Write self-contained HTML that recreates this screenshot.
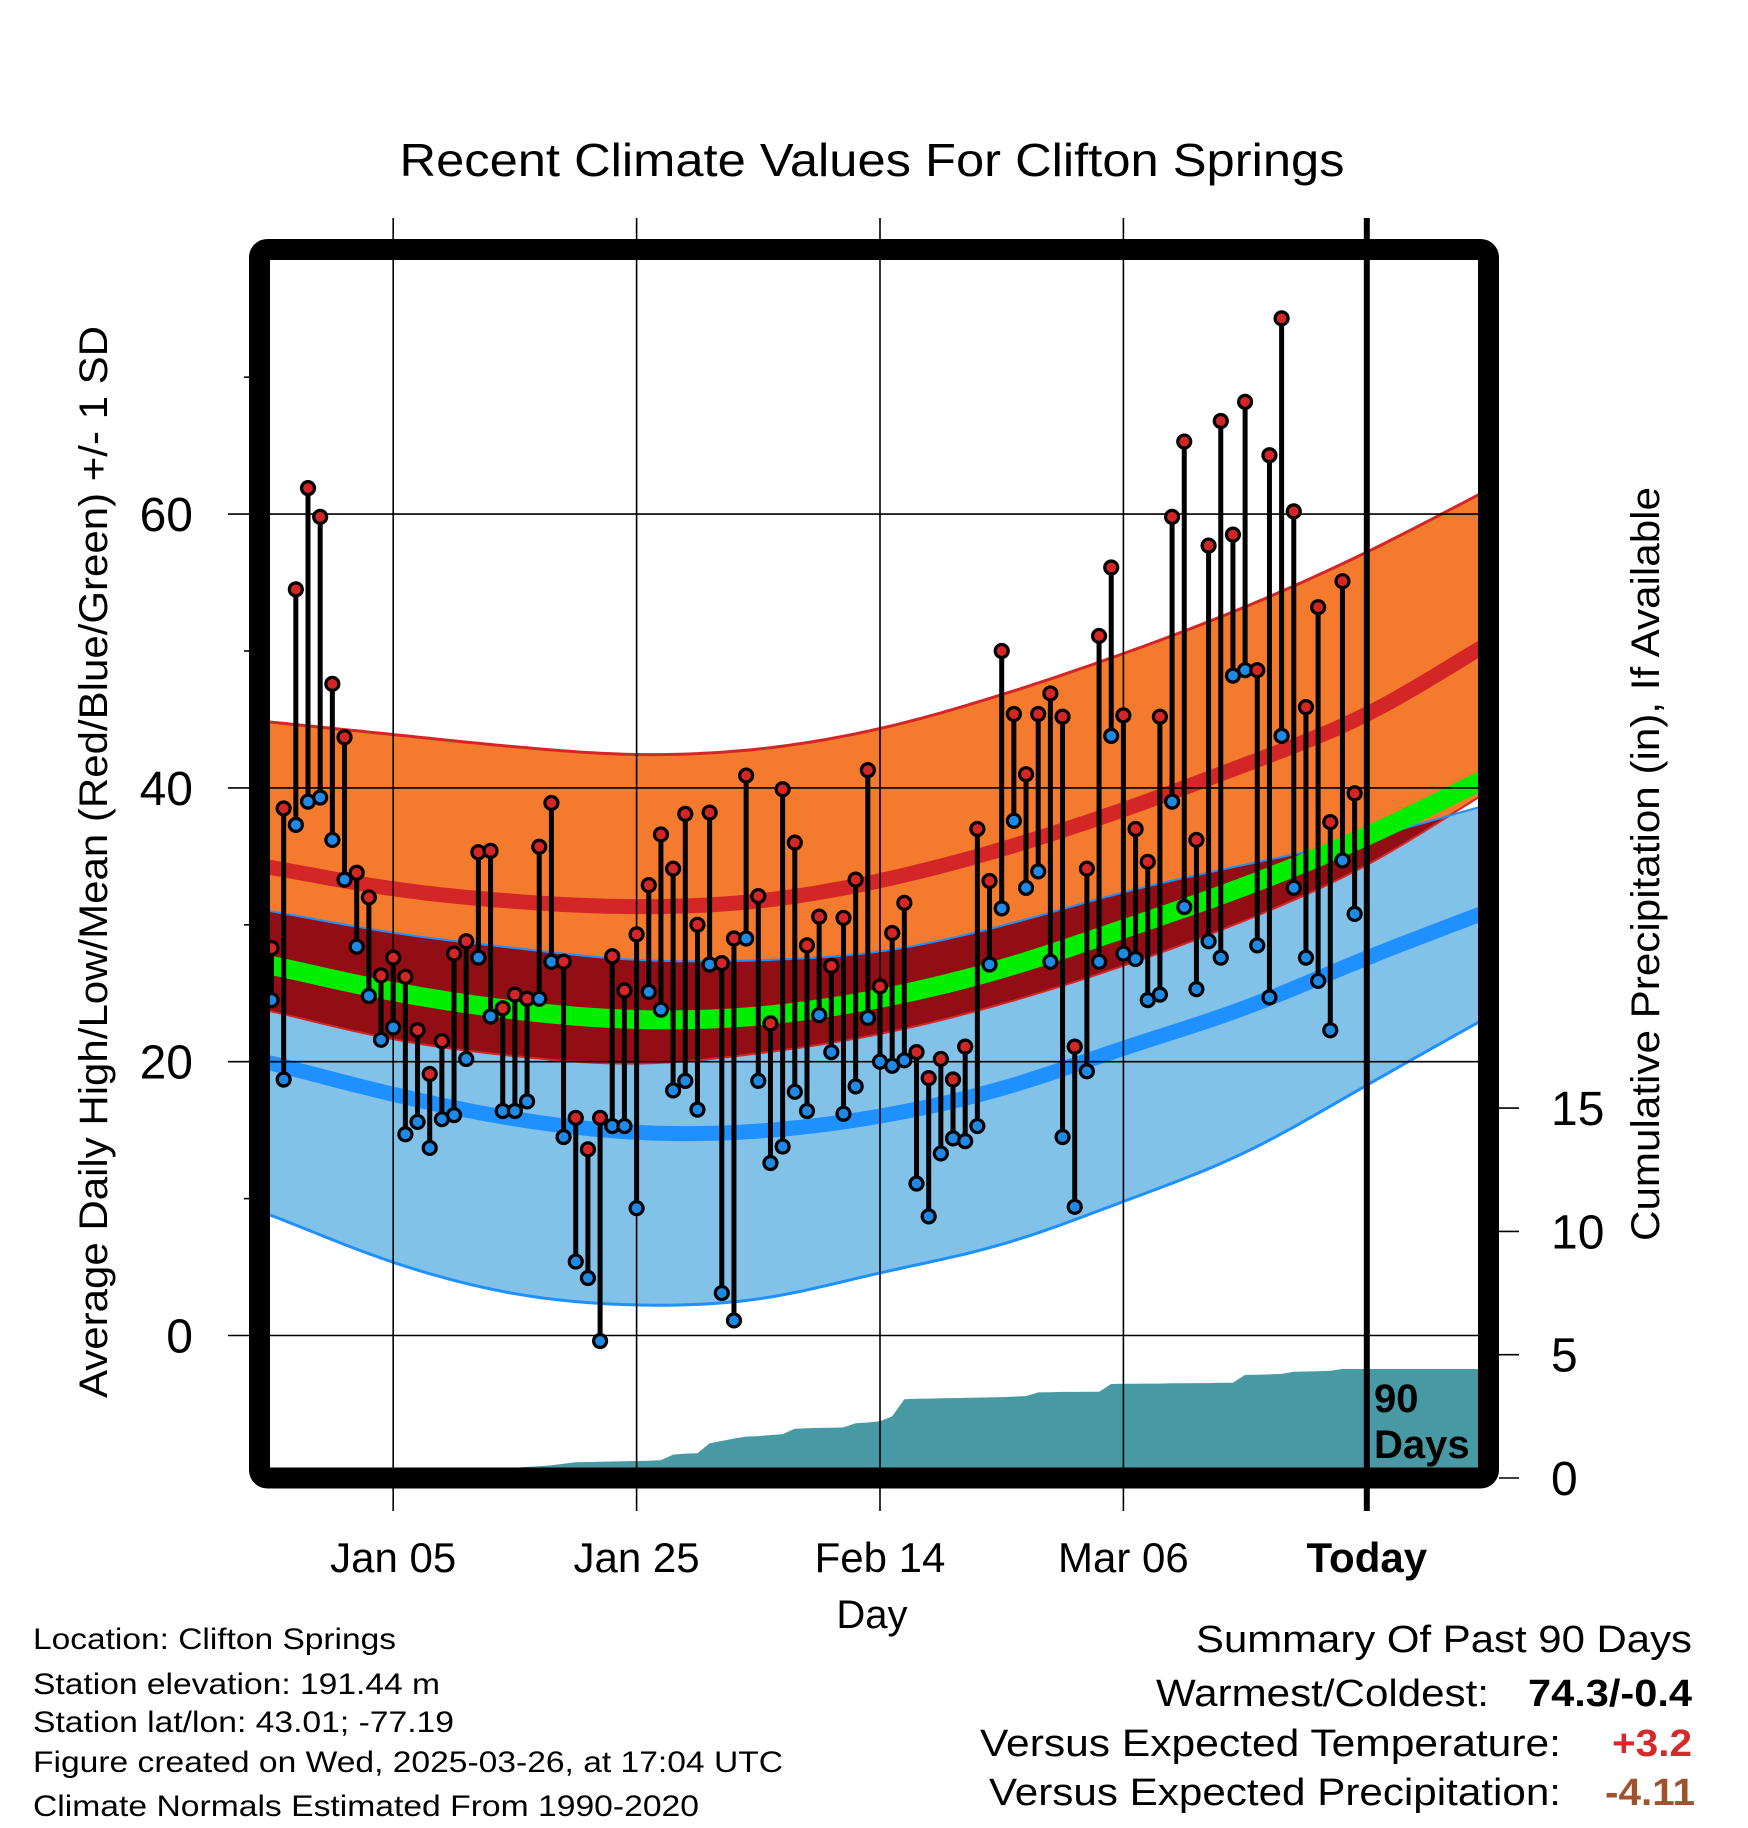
<!DOCTYPE html>
<html><head><meta charset="utf-8"><style>
html,body{margin:0;padding:0;background:#fff;}
svg{display:block;font-family:"Liberation Sans",Arial,sans-serif;}
</style></head><body>
<svg id="chart" width="1748" height="1828" viewBox="0 0 1748 1828" xmlns="http://www.w3.org/2000/svg">
<defs><clipPath id="plotclip"><rect x="270" y="260" width="1208" height="1208"/></clipPath></defs>
<text x="872" y="176" font-size="46" text-anchor="middle" textLength="945" lengthAdjust="spacingAndGlyphs">Recent Climate Values For Clifton Springs</text>
<g id="bands" clip-path="url(#plotclip)"></g>
<g id="grid"></g>
<g id="marks" clip-path="url(#plotclip)"></g>
<rect x="259.5" y="249.5" width="1229" height="1228.5" rx="8" fill="none" stroke="#000" stroke-width="21"/>
<text x="1374" y="1412" font-size="40" font-weight="bold">90</text>
<text x="1374" y="1458" font-size="40" font-weight="bold">Days</text>
<g id="axes"></g>
<text transform="translate(107,862) rotate(-90)" font-size="40" text-anchor="middle" textLength="1072" lengthAdjust="spacingAndGlyphs">Average Daily High/Low/Mean (Red/Blue/Green) +/- 1 SD</text>
<text transform="translate(1659,864) rotate(-90)" font-size="40" text-anchor="middle" textLength="754" lengthAdjust="spacingAndGlyphs">Cumulative Precipitation (in), If Available</text>
<text x="872" y="1628" font-size="40" text-anchor="middle">Day</text>
<g font-size="30">
<text x="33" y="1649" textLength="363" lengthAdjust="spacingAndGlyphs">Location: Clifton Springs</text>
<text x="33" y="1694" textLength="407" lengthAdjust="spacingAndGlyphs">Station elevation: 191.44 m</text>
<text x="33" y="1732" textLength="421" lengthAdjust="spacingAndGlyphs">Station lat/lon: 43.01; -77.19</text>
<text x="33" y="1772" textLength="750" lengthAdjust="spacingAndGlyphs">Figure created on Wed, 2025-03-26, at 17:04 UTC</text>
<text x="33" y="1816" textLength="666" lengthAdjust="spacingAndGlyphs">Climate Normals Estimated From 1990-2020</text>
</g>
<g font-size="38">
<text x="1692" y="1652" text-anchor="end" textLength="496" lengthAdjust="spacingAndGlyphs">Summary Of Past 90 Days</text>
<text x="1156" y="1706" textLength="333" lengthAdjust="spacingAndGlyphs">Warmest/Coldest:</text>
<text x="1692" y="1706" text-anchor="end" font-weight="bold" textLength="164" lengthAdjust="spacingAndGlyphs">74.3/-0.4</text>
<text x="980" y="1756" textLength="581" lengthAdjust="spacingAndGlyphs">Versus Expected Temperature:</text>
<text x="1692" y="1756" text-anchor="end" font-weight="bold" fill="#d42a2a" textLength="80" lengthAdjust="spacingAndGlyphs">+3.2</text>
<text x="989" y="1805" textLength="572" lengthAdjust="spacingAndGlyphs">Versus Expected Precipitation:</text>
<text x="1695" y="1805" text-anchor="end" font-weight="bold" fill="#a0522d" textLength="90" lengthAdjust="spacingAndGlyphs">-4.11</text>
</g>
</svg>
<script>
const highs=[28.3,38.5,54.5,61.9,59.8,47.6,43.7,33.8,32.0,26.3,27.6,26.2,22.3,19.1,21.5,27.9,28.8,35.3,35.4,23.9,24.9,24.6,35.7,38.9,27.3,15.9,13.6,15.9,27.7,25.2,29.3,32.9,36.6,34.1,38.1,30.0,38.2,27.2,29.0,40.9,32.1,22.8,39.9,36.0,28.5,30.6,27.0,30.5,33.3,41.3,25.5,29.4,31.6,20.7,18.8,20.2,18.7,21.1,37.0,33.2,50.0,45.4,41.0,45.4,46.9,45.2,21.1,34.1,51.1,56.1,45.3,37.0,34.6,45.2,59.8,65.3,36.2,57.7,66.8,58.5,68.2,48.6,64.3,74.3,60.2,45.9,53.2,37.5,55.1,39.6];
const lows=[24.5,18.7,37.3,39.0,39.3,36.2,33.3,28.4,24.8,21.6,22.5,14.7,15.6,13.7,15.8,16.1,20.2,27.6,23.3,16.4,16.4,17.1,24.6,27.3,14.5,5.4,4.2,-0.4,15.3,15.3,9.3,25.1,23.8,17.9,18.6,16.5,27.1,3.1,1.1,29.0,18.6,12.6,13.8,17.8,16.4,23.4,20.7,16.2,18.2,23.2,20.0,19.7,20.1,11.1,8.7,13.3,14.4,14.2,15.3,27.1,31.2,37.6,32.7,33.9,27.3,14.5,9.4,19.3,27.3,43.8,27.9,27.5,24.5,24.9,39.0,31.3,25.3,28.8,27.6,48.2,48.6,28.5,24.7,43.8,32.7,27.6,25.9,22.3,34.7,30.8];
const precip=[0,0,0,0,0,0,0,0,0,0,0.1,0.1,0.1,0.1,0.1,0.25,0.25,0.25,0.25,0.25,0.42,0.45,0.48,0.52,0.58,0.64,0.65,0.66,0.67,0.68,0.69,0.70,0.72,0.95,0.99,1.0,1.41,1.5,1.6,1.68,1.70,1.74,1.78,2.0,2.02,2.03,2.04,2.05,2.22,2.25,2.3,2.5,3.19,3.21,3.22,3.23,3.24,3.25,3.26,3.27,3.28,3.30,3.32,3.47,3.48,3.49,3.49,3.50,3.50,3.81,3.82,3.82,3.83,3.83,3.84,3.84,3.85,3.85,3.86,3.86,4.18,4.19,4.20,4.22,4.31,4.32,4.33,4.35,4.42,4.42];
const normDays=[0,10,20,30,40,50,60,70,80,90,100];
const hiUpper=[44.8,43.9,43.0,42.4,42.8,44.3,46.8,49.8,53.2,57.2,61.8];
const hiMean=[34.2,32.6,31.7,31.3,31.7,33.2,35.5,38.4,41.7,45.3,50.6];
const hiLower=[23.7,21.6,20.4,19.8,20.6,22.0,24.2,27.0,30.3,34.3,39.8];
const loUpper=[31.0,29.4,28.3,27.4,27.4,28.0,29.9,32.4,34.4,36.3,38.8];
const loMean=[19.9,17.6,15.8,14.8,14.9,16.0,18.0,21.0,23.9,27.6,31.0];
const loLower=[8.8,5.3,3.0,2.2,2.6,4.6,6.6,9.8,13.3,18.3,23.3];
const yTicks=[0,20,40,60];
const yMinor=[10,30,50,70];
const pTicks=[0,5,10,15];
const xTickDays=[10,30,50,70,90];
const xTickLabels=["Jan 05","Jan 25","Feb 14","Mar 06","Today"];
const todayDay=90, lastDay=99.8;

const NS="http://www.w3.org/2000/svg";
const X=d=>271.5+d*12.17;
const Y=t=>1335.5-t*13.69;
const P=p=>1478-p*24.66;
function mk(tag,attrs,parent){const e=document.createElementNS(NS,tag);for(const k in attrs)e.setAttribute(k,attrs[k]);parent.appendChild(e);return e;}
// smooth interpolation: catmull-rom then light moving-average smoothing
function cr(arr,d){
  const step=normDays[1]-normDays[0];let i=Math.floor((d-normDays[0])/step);
  i=Math.max(0,Math.min(normDays.length-2,i));const t=(d-normDays[i])/step;
  const p1=arr[i],p2=arr[i+1];
  const p0=i>0?arr[i-1]:2*p1-p2;
  const p3=i+2<arr.length?arr[i+2]:2*p2-p1;
  return 0.5*((2*p1)+(-p0+p2)*t+(2*p0-5*p1+4*p2-p3)*t*t+(-p0+3*p1-3*p2+p3)*t*t*t);
}
function interp(arr,d){let s=0,n=0;for(let k=-4;k<=4;k++){s+=cr(arr,d+k);n++;}return s/n;}
const ds=[];for(let d=-0.5;d<=100;d+=0.5)ds.push(d);
const line=arr=>ds.map(d=>X(d).toFixed(1)+","+Y(interp(arr,d)).toFixed(1)).join(" ");
const band=(a,b)=>ds.map(d=>X(d).toFixed(1)+","+Y(interp(a,d)).toFixed(1)).join(" ")+" "+ds.slice().reverse().map(d=>X(d).toFixed(1)+","+Y(interp(b,d)).toFixed(1)).join(" ");

const bands=document.getElementById('bands');
let e;
e=mk('polygon',{points:band(hiUpper,hiLower),fill:'#f47b2e'},bands);


e=mk('polygon',{points:band(loUpper,loLower),fill:'#82c1e8'},bands);


const ovTop=ds.map(d=>X(d).toFixed(1)+","+Y(interp(loUpper,d)).toFixed(1));
const ovBot=ds.map(d=>{const a=interp(loUpper,d),b=interp(hiLower,d);return X(d).toFixed(1)+","+Y(Math.min(a,b)).toFixed(1);}).reverse();
e=mk('polygon',{points:ovTop.join(" ")+" "+ovBot.join(" "),fill:'#920e14'},bands);


e=mk('polyline',{points:line(hiUpper),fill:'none',stroke:'#d42626','stroke-width':3},bands);


e=mk('polyline',{points:line(hiLower),fill:'none',stroke:'#d42626','stroke-width':2},bands);


e=mk('polyline',{points:line(loUpper),fill:'none',stroke:'#1e90ff','stroke-width':2},bands);


e=mk('polyline',{points:line(loLower),fill:'none',stroke:'#1e90ff','stroke-width':3},bands);


e=mk('polyline',{points:line(hiMean),fill:'none',stroke:'#d42626','stroke-width':15},bands);


e=mk('polyline',{points:line(loMean),fill:'none',stroke:'#1e90ff','stroke-width':15},bands);


const meanArr=hiMean.map((v,i)=>(v+loMean[i])/2);
e=mk('polyline',{points:line(meanArr),fill:'none',stroke:'#00ee00','stroke-width':19},bands);


let pp=[X(0).toFixed(1)+","+P(0)];
precip.forEach((v,i)=>pp.push(X(i).toFixed(1)+","+P(v).toFixed(1)));
pp.push(X(lastDay+1).toFixed(1)+","+P(precip[precip.length-1]).toFixed(1));
pp.push(X(lastDay+1).toFixed(1)+","+P(0));
e=mk('polygon',{points:pp.join(" "),fill:'#479aa3'},bands);



const grid=document.getElementById('grid');
yTicks.forEach(t=>{
  const g=mk('line',{x1:228,x2:1478,y1:Y(t),y2:Y(t),stroke:'#000','stroke-width':1.6},grid);
  
  
});
yMinor.forEach(t=>{
  const g=mk('line',{x1:244,x2:252,y1:Y(t),y2:Y(t),stroke:'#000','stroke-width':1.6},grid);
  
  
});
xTickDays.forEach((d,i)=>{
  const g=mk('line',{x1:X(d),x2:X(d),y1:218,y2:1511,stroke:'#000','stroke-width':d===todayDay?6:1.6},grid);
  
  
});

const marks=document.getElementById('marks');
highs.forEach((h,i)=>{
  const l=lows[i];
  const s=mk('line',{x1:X(i),x2:X(i),y1:Y(h),y2:Y(l),stroke:'#000','stroke-width':5},marks);
  
  
});
highs.forEach((h,i)=>{
  const l=lows[i];
  const c1=mk('circle',{cx:X(i),cy:Y(l),r:6.5,fill:'#1e8ae6',stroke:'#000','stroke-width':3.2},marks);
  
  
  const c2=mk('circle',{cx:X(i),cy:Y(h),r:6.5,fill:'#d42626',stroke:'#000','stroke-width':3.2},marks);
  
  
});

const axes=document.getElementById('axes');
yTicks.forEach(t=>{
  const tx=mk('text',{x:193,y:Y(t)+17,'font-size':48,'text-anchor':'end'},axes);
  tx.textContent=t;
  
  
});
pTicks.forEach(p=>{
  const tk=mk('line',{x1:1499,x2:1519,y1:P(p),y2:P(p),stroke:'#000','stroke-width':1.6},axes);
  
  
  const tx=mk('text',{x:1551,y:P(p)+17,'font-size':48},axes);
  tx.textContent=p;
  
  
});
xTickDays.forEach((d,i)=>{
  const tx=mk('text',{x:X(d),y:1572,'font-size':42,'text-anchor':'middle','font-weight':d===todayDay?'bold':'normal'},axes);
  tx.textContent=xTickLabels[i];
  
  
});
</script>
</body></html>
